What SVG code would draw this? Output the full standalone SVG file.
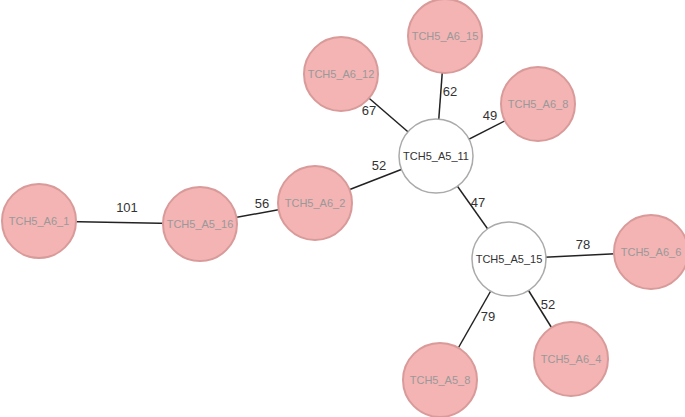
<svg xmlns="http://www.w3.org/2000/svg" width="685" height="417" viewBox="0 0 685 417">
<style>
.e{stroke:#222;stroke-width:1.5}
.p{fill:#f4b4b4;stroke:#d99a9a;stroke-width:2}
.w{fill:#fff;stroke:#aaa;stroke-width:1.5}
.t{font-family:"Liberation Sans",Arial,sans-serif;font-size:11px;text-anchor:middle;dominant-baseline:central}
.tp{fill:#999}
.tw{fill:#333}
.l{font-family:"Liberation Sans",Arial,sans-serif;font-size:13px;fill:#333;text-anchor:middle;dominant-baseline:central}
</style>
<rect width="685" height="417" fill="#fff"/>
<g id="edges">
<line class="e" x1="39" y1="221" x2="200" y2="224"/>
<line class="e" x1="200" y1="224" x2="315" y2="203"/>
<line class="e" x1="315" y1="203" x2="436" y2="156"/>
<line class="e" x1="436" y1="156" x2="341" y2="74"/>
<line class="e" x1="436" y1="156" x2="445" y2="36"/>
<line class="e" x1="436" y1="156" x2="538" y2="104"/>
<line class="e" x1="436" y1="156" x2="509" y2="259"/>
<line class="e" x1="509" y1="259" x2="651" y2="252"/>
<line class="e" x1="509" y1="259" x2="571" y2="359"/>
<line class="e" x1="509" y1="259" x2="440" y2="380"/>
<text class="l" x="127" y="207">101</text>
<text class="l" x="262" y="203">56</text>
<text class="l" x="379" y="165">52</text>
<text class="l" x="369" y="110">67</text>
<text class="l" x="450" y="91">62</text>
<text class="l" x="490" y="115">49</text>
<text class="l" x="478" y="202">47</text>
<text class="l" x="583" y="244">78</text>
<text class="l" x="548" y="304">52</text>
<text class="l" x="488" y="316">79</text>
</g>
<g id="TCH5_A6_1"><circle class="p" cx="39" cy="221" r="37"/><text class="t tp" x="39" y="221">TCH5_A6_1</text></g>
<g id="TCH5_A5_16"><circle class="p" cx="200" cy="224" r="37"/><text class="t tp" x="200" y="224">TCH5_A5_16</text></g>
<g id="TCH5_A6_2"><circle class="p" cx="315" cy="203" r="37"/><text class="t tp" x="315" y="203">TCH5_A6_2</text></g>
<g id="TCH5_A5_11"><circle class="w" cx="436" cy="156" r="37"/><text class="t tw" x="436" y="156">TCH5_A5_11</text></g>
<g id="TCH5_A6_12"><circle class="p" cx="341" cy="74" r="37"/><text class="t tp" x="341" y="74">TCH5_A6_12</text></g>
<g id="TCH5_A6_15"><circle class="p" cx="445" cy="36" r="37"/><text class="t tp" x="445" y="36">TCH5_A6_15</text></g>
<g id="TCH5_A6_8"><circle class="p" cx="538" cy="104" r="37"/><text class="t tp" x="538" y="104">TCH5_A6_8</text></g>
<g id="TCH5_A5_15"><circle class="w" cx="509" cy="259" r="37"/><text class="t tw" x="509" y="259">TCH5_A5_15</text></g>
<g id="TCH5_A6_6"><circle class="p" cx="651" cy="252" r="37"/><text class="t tp" x="651" y="252">TCH5_A6_6</text></g>
<g id="TCH5_A6_4"><circle class="p" cx="571" cy="359" r="37"/><text class="t tp" x="571" y="359">TCH5_A6_4</text></g>
<g id="TCH5_A5_8"><circle class="p" cx="440" cy="380" r="37"/><text class="t tp" x="440" y="380">TCH5_A5_8</text></g>
</svg>
